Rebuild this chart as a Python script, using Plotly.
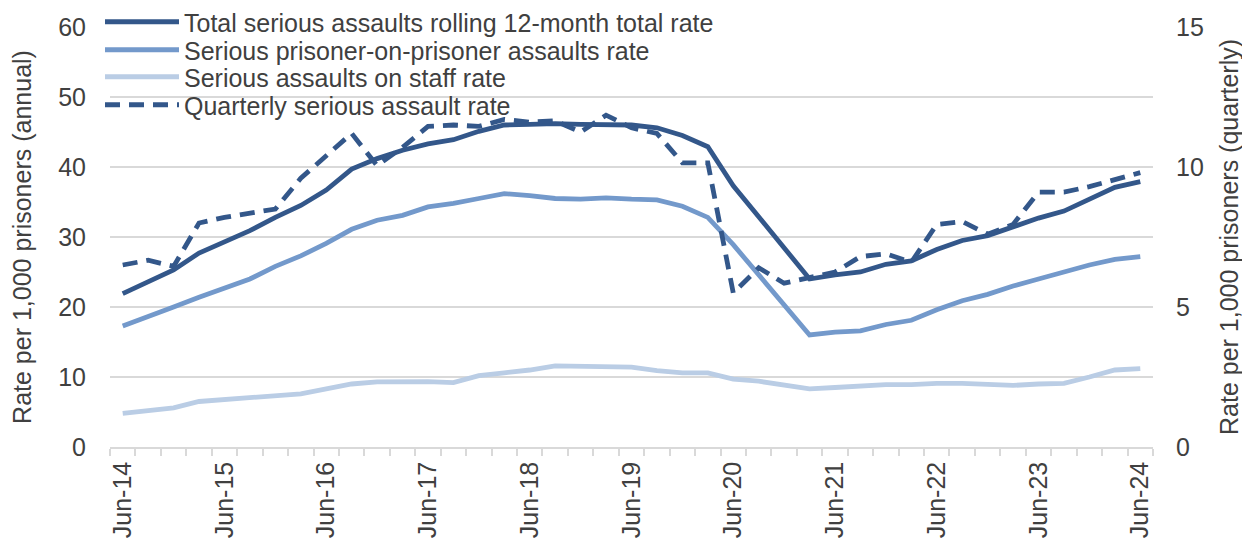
import plotly.graph_objects as go

quarters = [
    "Jun-14", "Sep-14", "Dec-14", "Mar-15", "Jun-15", "Sep-15", "Dec-15", "Mar-16",
    "Jun-16", "Sep-16", "Dec-16", "Mar-17", "Jun-17", "Sep-17", "Dec-17", "Mar-18",
    "Jun-18", "Sep-18", "Dec-18", "Mar-19", "Jun-19", "Sep-19", "Dec-19", "Mar-20",
    "Jun-20", "Sep-20", "Dec-20", "Mar-21", "Jun-21", "Sep-21", "Dec-21", "Mar-22",
    "Jun-22", "Sep-22", "Dec-22", "Mar-23", "Jun-23", "Sep-23", "Dec-23", "Mar-24",
    "Jun-24",
]
tick_labels = ["Jun-14", "Jun-15", "Jun-16", "Jun-17", "Jun-18", "Jun-19",
               "Jun-20", "Jun-21", "Jun-22", "Jun-23", "Jun-24"]

total_rate = [21.9, 23.6, 25.3, 27.7, 29.3, 30.9, 32.8, 34.5, 36.7, 39.7, 41.2,
              42.4, 43.3, 43.9, 45.1, 46.0, 46.1, 46.2, 46.1, 46.1, 46.0, 45.6,
              44.5, 42.9, 37.3, 32.9, 28.5, 24.0, 24.6, 25.0, 26.1, 26.6, 28.2,
              29.5, 30.2, 31.5, 32.7, 33.7, 35.4, 37.1, 37.9]
pop_rate = [17.3, 18.6, 20.0, 21.4, 22.7, 24.0, 25.8, 27.3, 29.1, 31.1, 32.4,
            33.1, 34.3, 34.8, 35.5, 36.2, 35.9, 35.5, 35.4, 35.6, 35.4, 35.3,
            34.4, 32.8, 28.9, 24.6, 20.3, 16.0, 16.4, 16.6, 17.5, 18.1, 19.6,
            20.9, 21.8, 23.0, 24.0, 25.0, 26.0, 26.8, 27.2]
staff_rate = [4.8, 5.2, 5.6, 6.5, 6.8, 7.0, 7.3, 7.6, 8.3, 9.0, 9.3,
              9.4, 9.35, 9.2, 10.2, 10.6, 11.0, 11.6, 11.5, 11.4, 11.4, 10.9,
              10.6, 10.6, 9.7, 9.4, 8.9, 8.3, 8.5, 8.7, 8.9, 8.9, 9.1,
              9.1, 8.9, 8.8, 9.0, 9.1, 10.0, 11.0, 11.2]
quarterly_rate = [6.5, 6.67, 6.45, 8.0, 8.2, 8.35, 8.5, 9.6, 10.4, 11.2, 10.05,
                  10.7, 11.45, 11.5, 11.45, 11.7, 11.6, 11.65, 11.25, 11.85, 11.4, 11.2,
                  10.15, 10.15, 5.5, 6.4, 5.85, 6.05, 6.25, 6.8, 6.9, 6.6, 7.95,
                  8.05, 7.6, 7.95, 9.1, 9.1, 9.3, 9.55, 9.8]

names = ["Total serious assaults rolling 12-month total rate",
         "Serious prisoner-on-prisoner assaults rate",
         "Serious assaults on staff rate",
         "Quarterly serious assault rate"]

DARK = "#33578A"
MID = "#7399CB"
LIGHT = "#BACDE5"
GRID = "#D9D9D9"
TXT = "#404040"
FONT = "Liberation Sans, Arial, sans-serif"

x = list(range(len(quarters)))
tickpos = [quarters.index(t) for t in tick_labels]

fig = go.Figure()
fig.add_trace(go.Scatter(x=x, y=total_rate, name=names[0], mode="lines",
                         line=dict(color=DARK, width=4.8), legend="legend"))
fig.add_trace(go.Scatter(x=x, y=pop_rate, name=names[1], mode="lines",
                         line=dict(color=MID, width=4.8), legend="legend2"))
fig.add_trace(go.Scatter(x=x, y=staff_rate, name=names[2], mode="lines",
                         line=dict(color=LIGHT, width=4.8), legend="legend3"))
fig.add_trace(go.Scatter(x=x, y=quarterly_rate, name=names[3], mode="lines",
                         line=dict(color=DARK, width=4.8, dash="15px,9px"),
                         yaxis="y2", legend="legend4"))

# page body has an 8px default margin; figure sized so it fits the window
W, H = 1242, 531
L, R, T, B = 102, 97, 19, 92
PLOT_W = W - L - R

def leg(ypx):
    return dict(x=(92 - L) / PLOT_W, xanchor="left",
                yref="container", y=1 - ypx / H, yanchor="middle",
                bgcolor="rgba(0,0,0,0)", itemwidth=74,
                font=dict(family=FONT, size=25, color=TXT))

fig.update_layout(
    width=W, height=H,
    margin=dict(l=L, r=R, t=T, b=B, autoexpand=False),
    paper_bgcolor="white", plot_bgcolor="white",
    font=dict(family=FONT, size=25, color=TXT),
    showlegend=True,
    legend=leg(14), legend2=leg(42), legend3=leg(69), legend4=leg(97),
    xaxis=dict(range=[-0.5, len(quarters) - 0.5], tickmode="array", tickvals=tickpos,
               ticktext=tick_labels, tickangle=-90, showgrid=False, zeroline=False,
               showline=True, linecolor=GRID, linewidth=1.5, automargin=False,
               ticks="outside", ticklen=3, tickcolor="rgba(0,0,0,0)",
               minor=dict(ticks="outside", tick0=-0.5, dtick=1, ticklen=7,
                          tickcolor=GRID, tickwidth=1.5, showgrid=False),
               tickfont=dict(size=25, color=TXT)),
    yaxis=dict(range=[0, 60], dtick=10, showgrid=True, gridcolor=GRID, gridwidth=1.5,
               zeroline=False, showline=False, ticks="", ticklabelstandoff=23,
               automargin=False,
               title=dict(text="Rate per 1,000 prisoners (annual)", standoff=25,
                          font=dict(size=25, color=TXT)),
               tickfont=dict(size=25, color=TXT)),
    yaxis2=dict(range=[0, 15], dtick=5, overlaying="y", side="right", showgrid=False,
                zeroline=False, showline=False, ticks="", ticklabelstandoff=22,
                automargin=False,
                title=dict(text="Rate per 1,000 prisoners (quarterly)", standoff=17,
                           font=dict(size=25, color=TXT)),
                tickfont=dict(size=25, color=TXT)),
)

fig.write_html("out.html")
